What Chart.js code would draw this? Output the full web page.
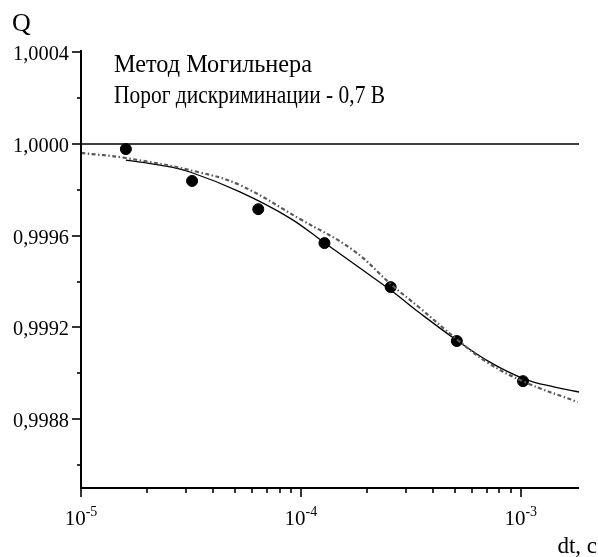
<!DOCTYPE html>
<html>
<head>
<meta charset="utf-8">
<script src="https://cdn.jsdelivr.net/npm/chart.js@4.4.1/dist/chart.umd.min.js"></script>
<style>
  html, body { margin: 0; padding: 0; background: #fff; }
  #wrap { width: 598px; height: 557px; }
</style>
</head>
<body>
<div id="wrap"><canvas id="chart" width="598" height="557"></canvas></div>
<script>
// Измеренные точки: dt, c и Q
const measuredDt = [1.6e-5, 3.2e-5, 6.4e-5, 1.28e-4, 2.56e-4, 5.12e-4, 1.024e-3];
const measuredQ = [0.999978, 0.999839, 0.999716, 0.999568, 0.999376, 0.999141, 0.998966];

// Аппроксимация (сплошная линия)
const fitDt = [1.6e-5, 2.29e-5, 3.13e-5, 5.28e-5, 8.91e-5, 1.285e-4, 1.854e-4, 2.592e-4, 3.475e-4, 5.17e-4, 7.23e-4, 1.042e-3, 1.427e-3, 1.854e-3];
const fitQ = [0.99993, 0.999908, 0.999878, 0.999791, 0.999677, 0.999568, 0.999459, 0.999359, 0.999263, 0.999141, 0.999049, 0.998975, 0.99894, 0.998918];

// Расчётная кривая (штрихпунктир)
const calcDt = [1e-5, 1.6e-5, 3.4e-5, 5.28e-5, 9.9e-5, 1.723e-4, 2.592e-4, 3.475e-4, 5.17e-4, 7.01e-4, 1.042e-3, 1.816e-3];
const calcQ = [0.999961, 0.999939, 0.999878, 0.999821, 0.999673, 0.999538, 0.999385, 0.999285, 0.999145, 0.999049, 0.998962, 0.998875];

// Оси
const xMin = 1e-5, xMax = 1.84e-3;
const yMin = 0.9985, yMax = 1.00041;
const yTickValues = [0.9988, 0.9992, 0.9996, 1.0000, 1.0004];
const yTickLabels = ['0,9988', '0,9992', '0,9996', '1,0000', '1,0004'];
const yMinorValues = [0.9986, 0.9990, 0.9994, 0.9998, 1.0002];
const xDecades = [-5, -4, -3];
const referenceQ = 1.0;

const legendLines = ['Метод Могильнера', 'Порог дискриминации - 0,7 В'];

const FONT = '"Liberation Serif", "Times New Roman", serif';

function toPoints(xs, ys) {
  return xs.map((x, i) => ({ x: x, y: ys[i] }));
}

/**
 * Подписи и засечки осей рисуются вручную (степени десяти, короткие/длинные засечки)
 */
const axisDecor = {
  id: 'axisDecor',
  afterDraw(chart) {
    const ctx = chart.ctx;
    const xs = chart.scales.x;
    const ys = chart.scales.y;
    const area = chart.chartArea;
    ctx.save();
    ctx.strokeStyle = '#000';
    ctx.fillStyle = '#000';

    // оси
    ctx.lineWidth = 2;
    ctx.beginPath();
    ctx.moveTo(area.left, area.top);
    ctx.lineTo(area.left, area.bottom);
    ctx.lineTo(area.right, area.bottom);
    ctx.stroke();

    // засечки Y
    ctx.lineWidth = 1.6;
    yTickValues.forEach(v => {
      const y = Math.round(ys.getPixelForValue(v));
      ctx.beginPath();
      ctx.moveTo(area.left - 9, y);
      ctx.lineTo(area.left, y);
      ctx.stroke();
    });
    yMinorValues.forEach(v => {
      const y = Math.round(ys.getPixelForValue(v));
      ctx.beginPath();
      ctx.moveTo(area.left - 4, y);
      ctx.lineTo(area.left, y);
      ctx.stroke();
    });

    // засечки X (логарифмическая шкала)
    xDecades.forEach(p => {
      for (let m = 1; m <= 9; m++) {
        const v = m * Math.pow(10, p);
        if (v < xMin || v > xMax) continue;
        const x = Math.round(xs.getPixelForValue(v));
        ctx.beginPath();
        ctx.moveTo(x, area.bottom);
        ctx.lineTo(x, area.bottom + (m === 1 ? 9 : 5));
        ctx.stroke();
      }
    });

    // подписи Y
    ctx.font = '22px ' + FONT;
    ctx.textAlign = 'right';
    ctx.textBaseline = 'alphabetic';
    yTickValues.forEach((v, i) => {
      const y = ys.getPixelForValue(v);
      ctx.fillText(yTickLabels[i], area.left - 12, y + 8, 56);
    });

    // подписи X: 10 в степени
    xDecades.forEach(p => {
      const x = xs.getPixelForValue(Math.pow(10, p));
      ctx.font = '21px ' + FONT;
      const base = '10';
      const sup = String(p);
      const wBase = ctx.measureText(base).width;
      ctx.font = '14px ' + FONT;
      const wSup = ctx.measureText(sup).width;
      const left = x - (wBase + wSup) / 2;
      ctx.textAlign = 'left';
      ctx.font = '21px ' + FONT;
      ctx.fillText(base, left, area.bottom + 37);
      ctx.font = '14px ' + FONT;
      ctx.fillText(sup, left + wBase, area.bottom + 28);
    });

    // названия осей
    ctx.font = '26px ' + FONT;
    ctx.textAlign = 'left';
    ctx.fillText('Q', 12, 31);
    ctx.font = '23px ' + FONT;
    ctx.textAlign = 'right';
    ctx.fillText('dt, c', 597, 553, 42);

    // надписи на поле графика
    ctx.font = '26px ' + FONT;
    ctx.textAlign = 'left';
    ctx.fillText(legendLines[0], 114, 72, 198);
    ctx.fillText(legendLines[1], 114, 103, 271);

    ctx.restore();
  }
};

const ctx = document.getElementById('chart').getContext('2d');
new Chart(ctx, {
  type: 'scatter',
  data: {
    datasets: [
      {
        label: 'Q = 1',
        data: [{ x: xMin, y: referenceQ }, { x: xMax, y: referenceQ }],
        showLine: true,
        borderColor: '#000',
        borderWidth: 1.5,
        pointRadius: 0
      },
      {
        label: 'расчёт',
        data: toPoints(calcDt, calcQ),
        showLine: true,
        borderColor: '#5a5a5a',
        borderWidth: 2.2,
        borderDash: [4, 2.5, 1.5, 2.5],
        tension: 0.4,
        pointRadius: 0
      },
      {
        label: 'аппроксимация',
        data: toPoints(fitDt, fitQ),
        showLine: true,
        borderColor: '#000',
        borderWidth: 1.3,
        tension: 0.4,
        pointRadius: 0
      },
      {
        label: 'эксперимент',
        data: toPoints(measuredDt, measuredQ),
        showLine: false,
        backgroundColor: '#000',
        borderColor: '#000',
        pointRadius: 5.5,
        pointHoverRadius: 5.5
      }
    ]
  },
  options: {
    responsive: false,
    animation: false,
    layout: { padding: { left: 81, right: 19, top: 50, bottom: 69 } },
    plugins: {
      legend: { display: false },
      tooltip: { enabled: false }
    },
    scales: {
      x: {
        type: 'logarithmic',
        min: xMin,
        max: xMax,
        grid: { display: false },
        border: { display: false },
        ticks: { display: false },
        afterFit(scale) { scale.height = 0; }
      },
      y: {
        type: 'linear',
        min: yMin,
        max: yMax,
        grid: { display: false },
        border: { display: false },
        ticks: { display: false },
        afterFit(scale) { scale.width = 0; }
      }
    }
  },
  plugins: [axisDecor]
});
</script>
</body>
</html>
